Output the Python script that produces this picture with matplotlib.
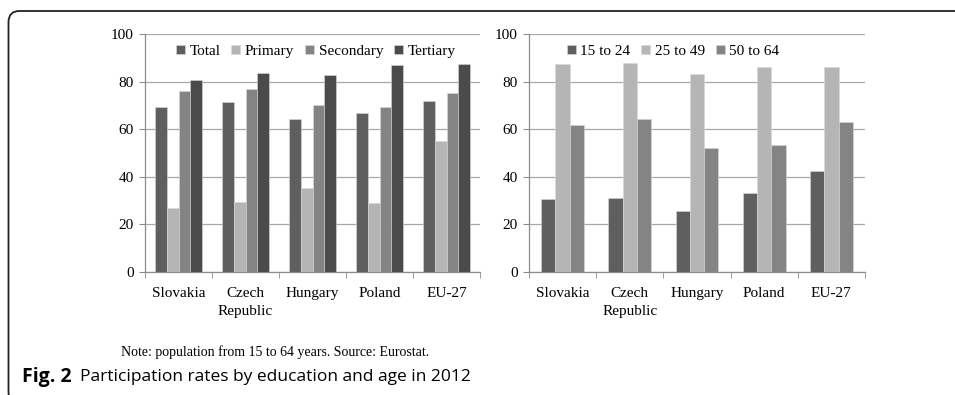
import numpy as np
import matplotlib
matplotlib.use("Agg")
import matplotlib.pyplot as plt
from matplotlib.patches import FancyBboxPatch

countries = ["Slovakia", "Czech\nRepublic", "Hungary", "Poland", "EU-27"]

# participation rate by education level (%)
edu_labels = ["Total", "Primary", "Secondary", "Tertiary"]
total = [69.3, 71.5, 64.2, 66.6, 71.7]
primary = [27.0, 29.6, 35.3, 29.1, 54.9]
secondary = [76.0, 76.7, 70.0, 69.4, 75.4]
tertiary = [80.5, 83.6, 82.6, 87.0, 87.2]

# participation rate by age group (%)
age_labels = ["15 to 24", "25 to 49", "50 to 64"]
age_15_24 = [30.5, 31.3, 25.7, 33.4, 42.4]
age_25_49 = [87.2, 88.0, 83.4, 86.2, 86.1]
age_50_64 = [61.8, 64.4, 52.2, 53.5, 63.1]

edu_colors = ["#5f5f5f", "#b5b5b5", "#848484", "#4b4b4b"]
age_colors = ["#5f5f5f", "#b5b5b5", "#848484"]

plt.rcParams["font.family"] = ["Liberation Serif", "DejaVu Serif"]

fig = plt.figure(figsize=(9.55, 3.95), dpi=100)
W, H = 955.0, 395.0

LINE_PX = 18     # spacing between lines of a category name
BASE_PX = 25     # axis line to first baseline of category names


def bar_panel(ax, series, labels, colors, width, legend_x):
    x = np.arange(len(countries))
    n = len(series)
    for i, (vals, lab, col) in enumerate(zip(series, labels, colors)):
        ax.bar(x + (i - (n - 1) / 2) * width, vals, width, color=col,
               label=lab, edgecolor="#d8d8d8", linewidth=0.4, zorder=3)
    ax.set_xlim(-0.5, len(countries) - 0.5)
    ax.set_ylim(0, 100)
    ax.set_yticks(range(0, 101, 20))
    ax.set_xticks(x)
    ax.set_xticklabels([])
    ax.tick_params(axis="x", length=0)
    # category names, every name's first line on a common baseline
    for xi, name in zip(x, countries):
        nlines = name.count("\n") + 1
        ax.annotate(name, xy=(xi, 0), xycoords=("data", "axes fraction"),
                    xytext=(0, -(BASE_PX + (nlines - 1) * LINE_PX)),
                    textcoords="offset pixels", ha="center", va="baseline",
                    fontsize=11, linespacing=1.5, multialignment="center",
                    annotation_clip=False)
    # group separators on the category axis
    ax.set_xticks(np.arange(-0.5, len(countries)), minor=True)
    ax.tick_params(axis="x", which="minor", length=4, color="#8c8c8c")
    ax.tick_params(axis="y", labelsize=11, length=4, color="#8c8c8c", pad=4)
    ax.grid(axis="y", color="#a8a8a8", linewidth=0.9, zorder=0)
    for s in ("top", "right"):
        ax.spines[s].set_visible(False)
    for s in ("left", "bottom"):
        ax.spines[s].set_color("#8c8c8c")
        ax.spines[s].set_linewidth(0.9)
    ax.legend(loc="upper left", bbox_to_anchor=(legend_x, 1.0), ncol=n,
              frameon=False, fontsize=11, handlelength=0.6, handleheight=0.6,
              handletextpad=0.3, columnspacing=0.7, borderaxespad=0.3)


ax1 = fig.add_axes([145 / W, 1 - 272 / H, 335 / W, 238 / H])
bar_panel(ax1, [total, primary, secondary, tertiary], edu_labels,
          edu_colors, 0.175, 0.06)

ax2 = fig.add_axes([529 / W, 1 - 272 / H, 336 / W, 238 / H])
bar_panel(ax2, [age_15_24, age_25_49, age_50_64], age_labels,
          age_colors, 0.213, 0.08)

fig.text(121 / W, 1 - 352 / H,
         "Note: population from 15 to 64 years. Source: Eurostat.",
         fontsize=10, va="center", ha="left")

sans = ["Open Sans", "DejaVu Sans"]
fig.text(22 / W, 1 - 377 / H, "Fig. 2", fontsize=14, fontweight="bold",
         family=sans, va="center", ha="left")
fig.text(80 / W, 1 - 377 / H, "Participation rates by education and age in 2012",
         fontsize=12.5, family=sans, va="center", ha="left")

# rounded frame around the figure, open to the right and bottom (inches)
frame = FancyBboxPatch((0.085, -0.08), 12.0, 3.95 - 0.11 + 0.08,
                       boxstyle="round,pad=0,rounding_size=0.11",
                       transform=fig.dpi_scale_trans, fill=False,
                       edgecolor="#222222", linewidth=1.3)
fig.patches.append(frame)

fig.savefig("out.png", dpi=100)
